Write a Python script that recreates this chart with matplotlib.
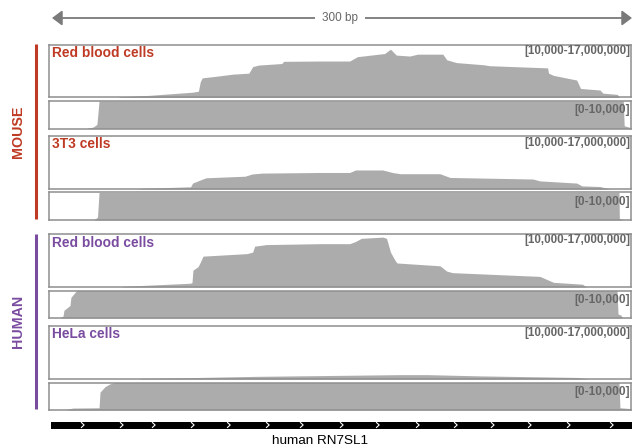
import numpy as np
import matplotlib.pyplot as plt

W, H = 632, 448

# coverage tracks: position in bp across the 300 bp window
# big panels in millions of reads (range 0.01-17 M), small panels in thousands (0-10 k)
mouse_rbc_pos = [36, 52, 74, 77, 78, 79, 86, 95, 103, 105, 108, 120, 121, 140, 155, 159, 166,
                 173, 176, 179, 186, 190, 203, 205, 210, 224, 227, 257, 257.5, 260, 272, 274,
                 284, 285.5, 293, 294]
mouse_rbc_cov = [0.2, 0.7, 1.7, 2.0, 5.1, 6.3, 6.8, 7.5, 7.8, 9.9, 10.4, 10.9, 11.6, 11.7, 11.7,
                 13.1, 13.6, 14.1, 15.5, 13.6, 13.3, 13.9, 13.9, 12.1, 11.2, 10.5, 10.2, 9.5, 7.8,
                 7.1, 5.6, 2.9, 2.4, 1.4, 1.0, 0.0]
mouse_rbc_lo_pos = [20, 22.7, 24.7, 25.8, 296, 296.5, 300]
mouse_rbc_lo_cov = [0.2, 0.5, 1.5, 10, 10, 1.0, 0.3]

t3_pos = [47, 73, 74, 78, 81, 101, 104.6, 110, 140, 155, 158, 172, 177, 181, 201.5, 206.7,
          249.5, 253, 272, 274.7, 284, 289]
t3_cov = [0.2, 0.7, 1.9, 2.9, 3.6, 4.1, 4.8, 5.1, 5.3, 5.3, 6.1, 6.1, 5.3, 4.9, 4.9, 3.7,
          3.2, 2.6, 1.9, 1.0, 0.8, 0.0]
t3_lo_pos = [23.5, 25, 25.8, 293.8, 294, 295.5, 296]
t3_lo_cov = [0.3, 1.0, 10, 10, 0.5, 0.2, 0.0]

human_rbc_pos = [38, 72.7, 73.7, 74.2, 76.8, 77.8, 79.4, 102, 105, 106, 112, 140, 155, 158,
                 161, 172, 174, 176, 178.4, 179.4, 201.5, 205, 208, 253, 256.7, 260, 275, 277]
human_rbc_cov = [0.2, 1.2, 1.4, 5.4, 6.5, 7.7, 9.9, 10.7, 11.2, 13.1, 13.6, 13.9, 13.9, 14.6,
                 15.6, 16.0, 15.6, 11.2, 8.5, 7.7, 6.8, 5.1, 4.6, 3.4, 2.4, 1.5, 0.9, 0.0]
human_rbc_lo_pos = [6.2, 7.2, 7.7, 9.8, 10.8, 11.3, 13.4, 14.4, 292.8, 293.3, 294.9, 295.5]
human_rbc_lo_cov = [0.5, 0.6, 2.8, 4.0, 4.5, 7.5, 9.3, 10, 10, 1.5, 1.0, 0.0]

hela_pos = [47, 78, 107, 155, 181, 195, 222, 272, 279]
hela_cov = [0.2, 0.5, 0.85, 1.2, 1.4, 1.4, 1.0, 0.5, 0.0]
hela_lo_pos = [9.3, 12.4, 25.8, 26.3, 28.9, 31.4, 34, 293.8, 294.3, 300]
hela_lo_cov = [0.3, 0.7, 0.8, 6.5, 8.5, 9.5, 10, 10, 0.8, 0.5]

track_names = ['Red blood cells', '3T3 cells', 'Red blood cells', 'HeLa cells']
big_range = '[10,000-17,000,000]'
small_range = '[0-10,000]'
gene_name = 'human RN7SL1'
gene_start, gene_end = 1, 300
chevron_pos = [17.5, 37.6, 54.1, 74.2, 92.8, 112.9, 130.4, 151, 169.6, 190.2, 209.8,
               228.8, 247.9, 268, 290.2]

RED = '#bf3a24'
PURPLE = '#7a4ca0'
FILL = '#acacac'
EDGE = '#8e8e8e'

plt.rcParams['font.family'] = ['Liberation Sans', 'DejaVu Sans']

fig = plt.figure(figsize=(W / 100, H / 100), dpi=100)


def px_axes(x0, y0, x1, y1):
    return fig.add_axes([x0 / W, 1 - y1 / H, (x1 - x0) / W, (y1 - y0) / H])


def panel(x0, y0, x1, y1, pos, cov, ymax):
    ax = px_axes(x0, y0, x1, y1)
    ax.fill_between(pos, cov, 0, color=FILL, lw=0)
    ax.set_xlim(0, 300)
    ax.set_ylim(0, ymax)
    ax.set_xticks([])
    ax.set_yticks([])
    for s in ax.spines.values():
        s.set_color(EDGE)
        s.set_linewidth(1.1)
    return ax


tracks = [
    (mouse_rbc_pos, mouse_rbc_cov, mouse_rbc_lo_pos, mouse_rbc_lo_cov, RED),
    (t3_pos, t3_cov, t3_lo_pos, t3_lo_cov, RED),
    (human_rbc_pos, human_rbc_cov, human_rbc_lo_pos, human_rbc_lo_cov, PURPLE),
    (hela_pos, hela_cov, hela_lo_pos, hela_lo_cov, PURPLE),
]
tops = [44.5, 136, 234, 326]
left, right = 49, 631

for (bp, bc, sp, sc, col), top, name in zip(tracks, tops, track_names):
    panel(left, top, right, top + 53, bp, bc, 17)
    panel(left, top + 56.5, right, top + 84, sp, sc, 10)
    fig.text(52 / W, 1 - (top + 8.5) / H, name, color=col, fontsize=9.9,
             fontweight='bold', ha='left', va='center')
    fig.text(630 / W, 1 - (top + 6.5) / H, big_range, color='#666666', fontsize=8.4,
             fontweight='bold', ha='right', va='center')
    fig.text(630 / W, 1 - (top + 65.5) / H, small_range, color='#666666', fontsize=8.6,
             fontweight='bold', ha='right', va='center')

# overlay for decorations in pixel coordinates
ov = fig.add_axes([0, 0, 1, 1], zorder=5)
ov.set_xlim(0, W)
ov.set_ylim(H, 0)
ov.axis('off')
ov.patch.set_alpha(0)

ov.annotate('', xy=(52, 18), xytext=(632, 18),
            arrowprops=dict(arrowstyle='<|-|>,head_length=0.6,head_width=0.45',
                            color='#7a7a7a', lw=1.3, shrinkA=0, shrinkB=0))
ov.text(340, 18, '300 bp', fontsize=8.5, color='#666666', ha='center', va='center',
        bbox=dict(boxstyle='square,pad=0.6', fc='white', ec='none'))

ov.plot([35.8, 35.8], [44, 219], color=RED, lw=2.2, solid_capstyle='butt')
ov.plot([36.3, 36.3], [234, 409.5], color=PURPLE, lw=2.2, solid_capstyle='butt')
ov.text(18, 131.5, 'MOUSE', color=RED, fontsize=10.3, fontweight='bold', rotation=90,
        ha='center', va='center')
ov.text(18, 321.5, 'HUMAN', color=PURPLE, fontsize=10.3, fontweight='bold', rotation=90,
        ha='center', va='center')

# gene track
gx = px_axes(49, 421.5, 632, 428.5)
gx.set_xlim(0, 300.5)
gx.set_ylim(0, 1)
gx.axis('off')
gx.fill_between([gene_start, gene_end + 0.5], 0, 1, color='black', lw=0)
for p in chevron_pos:
    gx.plot([p - 0.8, p + 0.6, p - 0.8], [0.85, 0.5, 0.15], color='white', lw=0.8)

ov.text(320, 441, gene_name, fontsize=9.7, color='black', ha='center', va='center')

fig.savefig('out.png', dpi=100)
